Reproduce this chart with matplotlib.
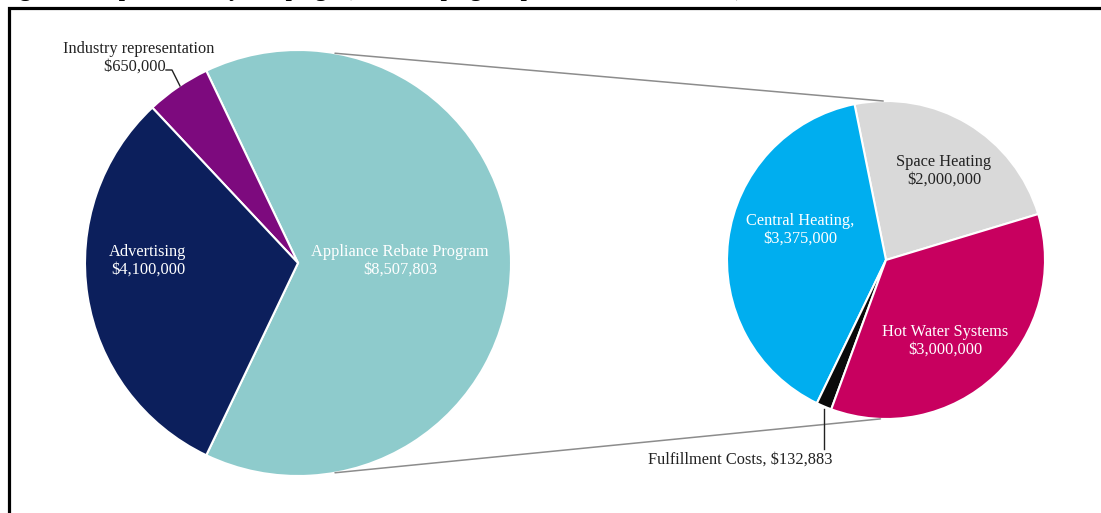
import matplotlib
matplotlib.use("Agg")
import matplotlib.pyplot as plt
from matplotlib.patches import ConnectionPatch, Rectangle
import numpy as np

# main breakdown
main_labels = ["Appliance Rebate Program", "Industry representation", "Advertising"]
main_values = [8507803, 650000, 4100000]
main_colors = ["#8ecbcc", "#7d0a7e", "#0c1f5c"]

# rebate program breakdown
sub_labels = ["Space Heating", "Central Heating,", "Fulfillment Costs,", "Hot Water Systems"]
sub_values = [2000000, 3375000, 132883, 3000000]
sub_colors = ["#d9d9d9", "#00aeef", "#0a0a0a", "#c8005f"]

title = "Figure 5: Expenditure by campaign (total campaign expenditure, $13,257,803)"

W, H = 1101, 513
plt.rcParams['font.family'] = ['Liberation Serif', 'DejaVu Serif']
fig = plt.figure(figsize=(W / 100, H / 100), dpi=100)


def fx(px):
    return px / W


def fy(py):
    # py measured from top
    return 1 - py / H


def money(v):
    return "${:,}".format(v)


# frame (runs off the right and bottom edges)
fig.patches.append(Rectangle((fx(9), -0.2), 1.2, fy(8) + 0.2, transform=fig.transFigure,
                             fill=False, lw=2.3, ec="black", clip_on=False))

# caption sits mostly above the visible area, as in the source
fig.text(fx(0), fy(-4), title, fontsize=16, fontweight="bold", va="baseline", ha="left")

# left pie
cx, cy, r = 298, 263, 213
ax1 = fig.add_axes([fx(cx - r), fy(cy + r), fx(2 * r), 2 * r / H])
frac = main_values[0] / sum(main_values)
start = -frac * 360 / 2
ax1.pie(main_values, colors=main_colors, startangle=start, counterclock=True, radius=1,
        wedgeprops=dict(edgecolor="white", linewidth=1.5))
ax1.set_xlim(-1, 1)
ax1.set_ylim(-1, 1)
ax1.axis("off")

# right pie
cx2, cy2, r2 = 886, 260, 159
ax2 = fig.add_axes([fx(cx2 - r2), fy(cy2 + r2), fx(2 * r2), 2 * r2 / H])
ax2.pie(sub_values, colors=sub_colors, startangle=16.8, counterclock=True, radius=1,
        wedgeprops=dict(edgecolor="white", linewidth=1.5))
ax2.set_xlim(-1, 1)
ax2.set_ylim(-1, 1)
ax2.axis("off")

# connector lines between the pies
for a1, a2 in [(80, 91), (-80, -92)]:
    p1 = (np.cos(np.radians(a1)), np.sin(np.radians(a1)))
    p2 = (np.cos(np.radians(a2)), np.sin(np.radians(a2)))
    con = ConnectionPatch(xyA=p2, coordsA=ax2.transData, xyB=p1, coordsB=ax1.transData,
                          color="#8c8c8c", lw=1.1)
    fig.add_artist(con)

fs = 11.8
ls = 1.15
fig.text(fx(148), fy(261), main_labels[2] + "\n" + money(main_values[2]), color="white",
         fontsize=fs, ha="center", va="center", linespacing=ls)
fig.text(fx(400), fy(261), main_labels[0] + "\n" + money(main_values[0]), color="white",
         fontsize=fs, ha="center", va="center", linespacing=ls)
fig.text(fx(139), fy(58), main_labels[1] + "\n" + money(main_values[1]) + "  ", color="#222222",
         fontsize=fs, ha="center", va="center", linespacing=ls)
fig.add_artist(plt.Line2D([fx(166), fx(172), fx(180)], [fy(70), fy(70), fy(86)],
                          transform=fig.transFigure, color="#222222", lw=1))

fig.text(fx(800), fy(230), sub_labels[1] + "\n" + money(sub_values[1]), color="white",
         fontsize=fs, ha="center", va="center", linespacing=ls)
fig.text(fx(944), fy(171), sub_labels[0] + "\n" + money(sub_values[0]), color="#222222",
         fontsize=fs, ha="center", va="center", linespacing=ls)
fig.text(fx(945), fy(341), sub_labels[3] + "\n" + money(sub_values[3]), color="white",
         fontsize=fs, ha="center", va="center", linespacing=ls)
fig.text(fx(740), fy(460), sub_labels[2] + " " + money(sub_values[2]), color="#222222",
         fontsize=fs, ha="center", va="center")
fig.add_artist(plt.Line2D([fx(824), fx(824)], [fy(409), fy(449)],
                          transform=fig.transFigure, color="#222222", lw=1))

fig.savefig("out.png", dpi=100)
